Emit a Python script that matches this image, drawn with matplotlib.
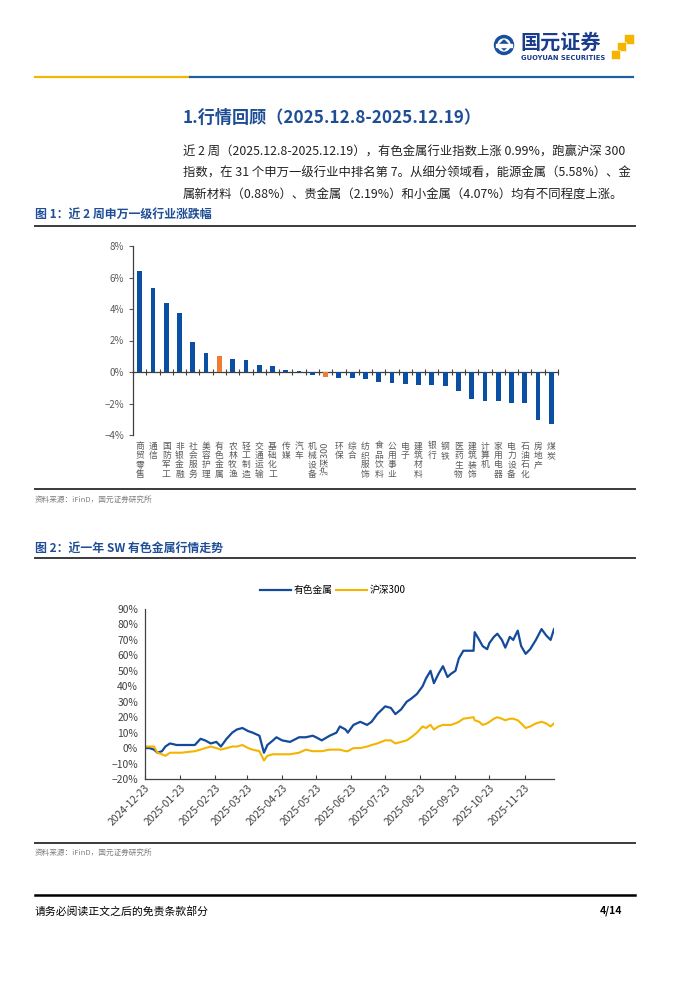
import matplotlib
matplotlib.use('Agg')
import matplotlib.pyplot as plt
import matplotlib.dates as mdates
import pandas as pd
from matplotlib.patches import Circle, Rectangle, Polygon
from matplotlib.ticker import PercentFormatter

plt.rcParams['font.family'] = ['Noto Sans CJK SC', 'DejaVu Sans']

# ---- figure 1: two-week change by SW level-1 industry (%)
industries = ['商贸零售', '通信', '国防军工', '非银金融', '社会服务', '美容护理', '有色金属',
              '农林牧渔', '轻工制造', '交通运输', '基础化工', '传媒', '汽车', '机械设备',
              '沪深300', '环保', '综合', '纺织服饰', '食品饮料', '公用事业', '电子',
              '建筑材料', '银行', '钢铁', '医药生物', '建筑装饰', '计算机', '家用电器',
              '电力设备', '石油石化', '房地产', '煤炭']
changes = [6.44, 5.32, 4.37, 3.73, 1.88, 1.20, 0.99,
           0.82, 0.76, 0.46, 0.36, 0.10, 0.08, -0.21,
           -0.34, -0.38, -0.40, -0.47, -0.61, -0.70, -0.76,
           -0.80, -0.82, -0.89, -1.20, -1.71, -1.84, -1.86,
           -1.98, -1.98, -3.02, -3.31]
highlight = ['有色金属', '沪深300']
bar_ticks = [-4, -2, 0, 2, 4, 6, 8]

# ---- figure 2: one-year cumulative return (%)
dates = ['2024-12-23', '2024-12-27', '2024-12-31', '2025-01-03', '2025-01-07', '2025-01-10',
         '2025-01-14', '2025-01-20', '2025-01-24', '2025-02-05', '2025-02-10', '2025-02-14',
         '2025-02-19', '2025-02-24', '2025-02-28', '2025-03-05', '2025-03-10', '2025-03-14',
         '2025-03-19', '2025-03-24', '2025-03-28', '2025-04-03', '2025-04-07', '2025-04-10',
         '2025-04-15', '2025-04-18', '2025-04-23', '2025-04-30', '2025-05-08', '2025-05-14',
         '2025-05-20', '2025-05-23', '2025-05-28', '2025-06-04', '2025-06-10', '2025-06-13',
         '2025-06-18', '2025-06-20', '2025-06-25', '2025-07-01', '2025-07-07', '2025-07-11',
         '2025-07-16', '2025-07-23', '2025-07-28', '2025-08-01', '2025-08-06', '2025-08-11',
         '2025-08-15', '2025-08-20', '2025-08-25', '2025-08-28', '2025-09-01', '2025-09-04',
         '2025-09-08', '2025-09-12', '2025-09-16', '2025-09-19', '2025-09-23', '2025-09-26',
         '2025-09-30', '2025-10-09', '2025-10-10', '2025-10-14', '2025-10-17', '2025-10-21',
         '2025-10-23', '2025-10-27', '2025-10-30', '2025-11-03', '2025-11-06', '2025-11-10',
         '2025-11-13', '2025-11-17', '2025-11-20', '2025-11-24', '2025-11-28', '2025-12-03',
         '2025-12-08', '2025-12-12', '2025-12-16', '2025-12-19']
metals = [0, 0, -1, -3, -2, 1,
          3, 2, 2, 2, 6, 5,
          3, 4, 1, 6, 10, 12,
          13, 11, 10, 8, -3, 2,
          5, 7, 5, 4, 7, 7,
          8, 7, 5, 8, 10, 14,
          12, 10, 15, 17, 15, 17,
          22, 27, 26, 22, 25, 30,
          32, 35, 40, 45, 50, 42,
          48, 53, 46, 48, 50, 58,
          63, 63, 75, 70, 66, 64,
          68, 72, 74, 70, 65, 72,
          70, 76, 66, 61, 64, 70,
          77, 73, 70, 77]
hs300 = [1, 1, 1, -3, -4, -5,
         -3, -3, -3, -2, -1, 0,
         1, 0, -1, 0, 1, 1,
         2, 0, -1, -2, -8, -5,
         -4, -4, -4, -4, -3, -1,
         -2, -2, -2, -1, -1, -1,
         -2, -2, 0, 0, 1, 2,
         3, 5, 5, 3, 4, 5,
         7, 10, 14, 13, 15, 12,
         14, 15, 15, 15, 16, 17,
         19, 20, 18, 17, 15, 16,
         17, 19, 20, 19, 18, 19,
         19, 18, 16, 13, 14, 16,
         17, 16, 14, 16]
tick_dates = ['2024-12-23', '2025-01-23', '2025-02-23', '2025-03-23', '2025-04-23',
              '2025-05-23', '2025-06-23', '2025-07-23', '2025-08-23', '2025-09-23',
              '2025-10-23', '2025-11-23']
line_ticks = [-20, -10, 0, 10, 20, 30, 40, 50, 60, 70, 80, 90]

BLUE = '#0B4FA3'
ORANGE = '#ED7D31'
GOLD = '#F4B400'
TXT_BLUE = '#1F4E96'
GREY = '#595959'

W, H = 700, 990
fig = plt.figure(figsize=(7, 9.9), dpi=100)


def px_axes(x0, y0, x1, y1):
    return fig.add_axes([x0 / W, 1 - y1 / H, (x1 - x0) / W, (y1 - y0) / H])


# page layer in pixel coordinates
page = px_axes(0, 0, W, H)
page.set_xlim(0, W)
page.set_ylim(H, 0)
page.axis('off')

# header logo
page.add_patch(Circle((504, 45), 9.5, color='#1A4F9C'))
page.add_patch(Circle((504, 45), 6.0, color='white'))
page.add_patch(Polygon([(504, 40), (509, 45), (504, 50), (499, 45)], color='#1A4F9C'))
page.add_patch(Rectangle((496, 43.5), 16, 3, color='white'))
page.text(520, 42, '国元证券', fontsize=14.5, fontweight='bold', color='#1A3C8C', va='center')
page.text(521, 58, 'GUOYUAN SECURITIES', fontsize=4.9, fontweight='bold', color='#1A3C8C',
          va='center', family='DejaVu Sans')
for sx, sy, s in [(624, 34, 10), (617, 42, 9), (611, 50, 9)]:
    page.add_patch(Rectangle((sx, sy), s, s, color='#F5B400', ec='white', lw=0.4))
page.plot([35, 190], [76.5, 76.5], color='#F2B700', lw=1.6)
page.plot([190, 633], [76.5, 76.5], color='#1F5FA0', lw=1.6)

# section heading and paragraph
page.text(183, 118, '1.行情回顾（2025.12.8-2025.12.19）', fontsize=12.3, fontweight='bold',
          color=TXT_BLUE, va='center')
para = ['近 2 周（2025.12.8-2025.12.19），有色金属行业指数上涨 0.99%，跑赢沪深 300',
        '指数，在 31 个申万一级行业中排名第 7。从细分领域看，能源金属（5.58%）、金',
        '属新材料（0.88%）、贵金属（2.19%）和小金属（4.07%）均有不同程度上涨。']
for i, line in enumerate(para):
    page.text(183, 152 + i * 21, line, fontsize=8.9, color='#222222', va='center')

# captions, rules, sources
page.text(35, 214, '图 1：近 2 周申万一级行业涨跌幅', fontsize=8.6, fontweight='bold',
          color=TXT_BLUE, va='center')
page.text(35, 548, '图 2：近一年 SW 有色金属行情走势', fontsize=8.6, fontweight='bold',
          color=TXT_BLUE, va='center')
for yy in [226, 489, 558, 843]:
    page.plot([35, 635], [yy, yy], color='#3A3A3A', lw=1.4)
for yy in [500, 853]:
    page.text(35, yy, '资料来源：iFinD，国元证券研究所', fontsize=5.5, color='#7F7F7F', va='center')
page.plot([35, 635], [895, 895], color='black', lw=1.8)
page.text(35, 911, '请务必阅读正文之后的免责条款部分', fontsize=7.8, color='black', va='center')
page.text(622, 911, '4/14', fontsize=7.5, fontweight='bold', color='black', va='center', ha='right')

# ---- chart 1: bars
ax1 = px_axes(133, 246, 558, 435)
x = list(range(len(industries)))
colors = [ORANGE if n in highlight else BLUE for n in industries]
ax1.bar(x, changes, width=0.36, color=colors, zorder=3)
ax1.set_xlim(-0.5, len(industries) - 0.5)
ax1.set_ylim(bar_ticks[0], bar_ticks[-1])
ax1.set_yticks(bar_ticks)
ax1.yaxis.set_major_formatter(PercentFormatter(decimals=0))
ax1.tick_params(axis='y', labelsize=7, colors=GREY, length=3, width=0.8)
ax1.spines['bottom'].set_position(('data', 0))
for s in ['top', 'right']:
    ax1.spines[s].set_visible(False)
for s in ['left', 'bottom']:
    ax1.spines[s].set_color('#404040')
    ax1.spines[s].set_linewidth(0.9)
ax1.set_xticks([i + 0.5 for i in x[:-1]] + [-0.5, len(industries) - 0.5])
ax1.tick_params(axis='x', direction='inout', length=5, width=0.8, color='#404040',
                labelbottom=False)
tr = ax1.get_xaxis_transform()
for i, name in enumerate(industries):
    if any(c.isdigit() for c in name):
        ax1.text(i, -0.035, name, rotation=90, transform=tr, ha='center', va='top',
                 fontsize=6.5, color=GREY)
    else:
        ax1.text(i, -0.035, '\n'.join(name), transform=tr, ha='center', va='top',
                 fontsize=6.3, color=GREY, linespacing=1.05)
ax1.patch.set_alpha(0)

# ---- chart 2: lines
ax2 = px_axes(145, 609, 554, 779)
d = pd.to_datetime(dates)
ax2.plot(d, metals, color='#134A9C', lw=1.6, label='有色金属')
ax2.plot(d, hs300, color=GOLD, lw=1.5, label='沪深300')
ax2.set_xlim(d[0], d[-1])
ax2.set_ylim(line_ticks[0], line_ticks[-1])
ax2.set_yticks(line_ticks)
ax2.yaxis.set_major_formatter(PercentFormatter(decimals=0))
ax2.set_xticks(pd.to_datetime(tick_dates))
ax2.xaxis.set_major_formatter(mdates.DateFormatter('%Y-%m-%d'))
ax2.tick_params(axis='x', direction='in', length=3, width=0.8, color='#404040',
                labelsize=7.4, labelcolor='#404040', pad=3)
for lab in ax2.get_xticklabels():
    lab.set_rotation(45)
    lab.set_ha('right')
    lab.set_rotation_mode('anchor')
ax2.tick_params(axis='y', labelsize=7.4, colors='#404040', length=0, pad=5)
for s in ['top', 'right']:
    ax2.spines[s].set_visible(False)
for s in ['left', 'bottom']:
    ax2.spines[s].set_color('#404040')
    ax2.spines[s].set_linewidth(0.9)
ax2.legend(loc='center', bbox_to_anchor=(333 / W, 1 - 590 / H), bbox_transform=fig.transFigure,
           ncol=2, frameon=False, fontsize=7, handlelength=3.2, handletextpad=0.3,
           columnspacing=0.3)
ax2.patch.set_alpha(0)

fig.savefig('out.png', dpi=100, facecolor='white')
